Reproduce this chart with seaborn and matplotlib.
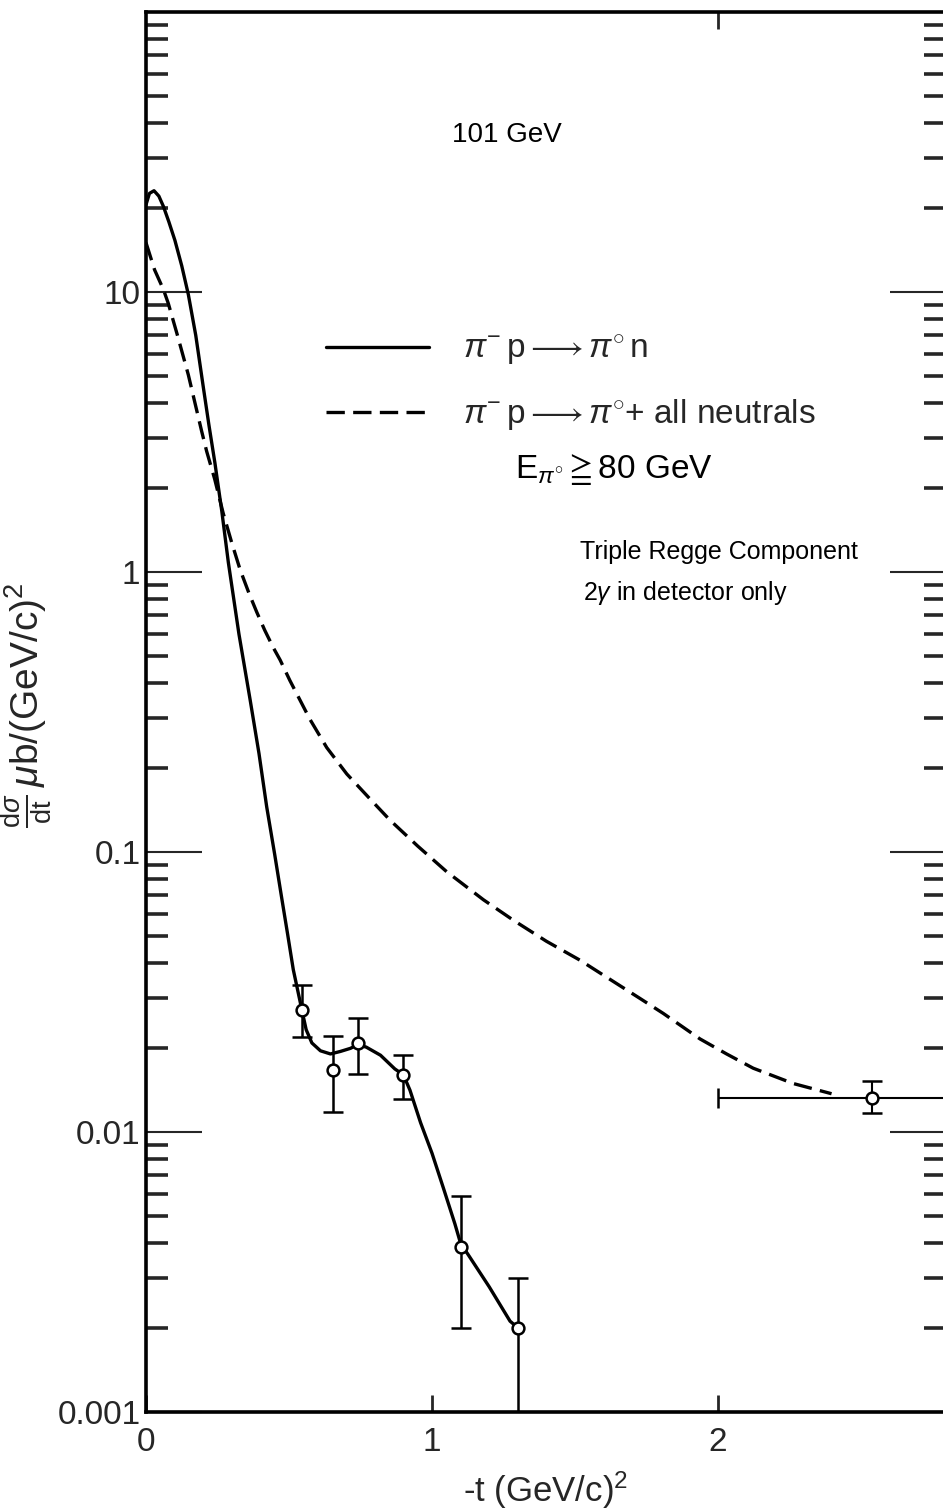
import numpy as np
import pandas as pd
import matplotlib
matplotlib.use("Agg")
import matplotlib.pyplot as plt
from matplotlib.ticker import LogLocator, NullFormatter, NullLocator
import seaborn as sns

# theory curve, pi- p -> pi0 n
solid_t = [0.0, 0.012, 0.028, 0.045, 0.061, 0.08, 0.101, 0.125, 0.148, 0.174, 0.2, 0.22,
           0.241, 0.265, 0.288, 0.325, 0.364, 0.395, 0.422, 0.45, 0.474, 0.495, 0.515,
           0.545, 0.56, 0.58, 0.61, 0.645, 0.68, 0.715, 0.74, 0.77, 0.82, 0.87, 0.90,
           0.923, 0.96, 1.0, 1.04, 1.08, 1.10, 1.127, 1.2, 1.273, 1.30]
solid_y = [20.5, 22.5, 23.0, 22.0, 20.2, 17.8, 15.3, 12.4, 9.8, 7.0, 4.6, 3.35,
           2.45, 1.65, 1.08, 0.60, 0.35, 0.225, 0.145, 0.098, 0.069, 0.051, 0.038,
           0.0273, 0.0232, 0.0208, 0.0195, 0.019, 0.0194, 0.0199, 0.0205, 0.0201, 0.0188, 0.0168, 0.016,
           0.0141, 0.0108, 0.0084, 0.0063, 0.0047, 0.0040, 0.00364, 0.0028, 0.00211, 0.002]

# triple Regge component, pi- p -> pi0 + all neutrals
dash_t = [0.0, 0.03, 0.061, 0.078, 0.11, 0.148, 0.194, 0.212, 0.24, 0.27, 0.3, 0.329, 0.36,
          0.387, 0.415, 0.445, 0.469, 0.503, 0.573, 0.632, 0.702, 0.78, 0.853, 0.95, 1.051,
          1.18, 1.284, 1.4, 1.517, 1.587, 1.727, 1.809, 1.937, 2.03, 2.123, 2.263, 2.397]
dash_y = [15.0, 12.0, 10.2, 9.1, 7.0, 5.06, 3.2, 2.7, 2.15, 1.62, 1.27, 1.02, 0.84,
          0.72, 0.62, 0.537, 0.485, 0.41, 0.298, 0.236, 0.19, 0.156, 0.130, 0.105, 0.0851,
          0.0675, 0.0571, 0.048, 0.0411, 0.037, 0.030, 0.0265, 0.0215, 0.019, 0.0169, 0.0149, 0.0137]

# measured points, pi0 n
pt_t  = [0.545, 0.655, 0.74, 0.90, 1.10, 1.30]
pt_y  = [0.0273, 0.0167, 0.0208, 0.0160, 0.0039, 0.0020]
pt_lo = [0.0219, 0.0118, 0.0161, 0.0131, 0.0020, 0.0010]
pt_hi = [0.0334, 0.0220, 0.0256, 0.0189, 0.0059, 0.0030]

# measured point, all neutrals (bin 2 < -t < 3)
nt_t, nt_tlo, nt_thi = [2.54], [2.0], [3.0]
nt_y, nt_lo, nt_hi = [0.0132], [0.0117], [0.0152]

labels = [r"$\pi^{-}\,\mathrm{p}\longrightarrow\pi^{\circ}\,\mathrm{n}$",
          r"$\pi^{-}\,\mathrm{p}\longrightarrow\pi^{\circ}$+ all neutrals"]
ytick_vals = [0.001, 0.01, 0.1, 1, 10]
ytick_labs = ["0.001", "0.01", "0.1", "1", "10"]
xtick_vals = [0, 1, 2]

sns.set_style("white")
plt.rcParams["font.family"] = ["Liberation Sans", "DejaVu Sans"]
plt.rcParams["mathtext.fontset"] = "custom"
plt.rcParams["mathtext.rm"] = "Liberation Sans"
plt.rcParams["mathtext.it"] = "Liberation Sans:italic"
plt.rcParams["mathtext.bf"] = "Liberation Sans:bold"

fig = plt.figure(figsize=(9.43, 15.11), dpi=100)
ax = fig.add_axes([146 / 943, 99 / 1511, 800 / 943, 1400 / 1511])

lw = 2.4
sns.lineplot(x=solid_t, y=solid_y, ax=ax, color="black", lw=lw, sort=False,
             estimator=None, label=labels[0])
sns.lineplot(x=dash_t, y=dash_y, ax=ax, color="black", lw=lw, sort=False,
             estimator=None, linestyle=(0, (5.5, 2.5)), label=labels[1])

pt_t_a, pt_y_a = np.array(pt_t), np.array(pt_y)
yerr = [pt_y_a - np.array(pt_lo), np.array(pt_hi) - pt_y_a]
ax.errorbar(pt_t, pt_y, yerr=yerr, fmt="o", mfc="white", mec="black", ms=8.5, mew=1.8,
            ecolor="black", elinewidth=1.8, capsize=7, capthick=1.8, zorder=5)
nt_yerr = [np.array(nt_y) - np.array(nt_lo), np.array(nt_hi) - np.array(nt_y)]
nt_xerr = [np.array(nt_t) - np.array(nt_tlo), np.array(nt_thi) - np.array(nt_t)]
ax.errorbar(nt_t, nt_y, yerr=nt_yerr, xerr=nt_xerr, fmt="o", mfc="white", mec="black",
            ms=8.5, mew=1.8, ecolor="black", elinewidth=1.5, capsize=7, capthick=1.8, zorder=5)

ax.set_yscale("log")
ax.set_ylim(1e-3, 1e2)
ax.set_xlim(0, 800 / 286)

ax.set_yticks(ytick_vals)
ax.set_yticklabels(ytick_labs)
ax.yaxis.set_minor_locator(LogLocator(base=10, subs=np.arange(2, 10)))
ax.yaxis.set_minor_formatter(NullFormatter())
ax.tick_params(axis="y", which="major", direction="in", length=40, width=1.5,
               left=True, right=True, labelsize=24, pad=4)
ax.tick_params(axis="y", which="minor", direction="in", length=16, width=2.6,
               left=True, right=True)
ax.set_xticks(xtick_vals)
ax.set_xticklabels([str(v) for v in xtick_vals])
ax.xaxis.set_minor_locator(NullLocator())
ax.tick_params(axis="x", which="major", direction="in", length=12, width=2.0,
               bottom=True, top=False, labelsize=24, pad=11)
top = ax.secondary_xaxis("top")
top.set_xticks([2])
top.set_xticklabels([])
top.tick_params(direction="in", length=12, width=2.0)
top.spines["top"].set_visible(False)

for side in ["left", "bottom", "top"]:
    ax.spines[side].set_color("black")
    ax.spines[side].set_linewidth(2.6)
ax.spines["right"].set_visible(False)

ax.set_xlabel(r"-t (GeV/c)$^2$", fontsize=25)
ax.xaxis.set_label_coords(0.5, -0.041)
ax.set_ylabel(r"$\frac{\mathrm{d}\sigma}{\mathrm{dt}}\,\mu\mathrm{b/(GeV/c)}^2$", fontsize=28)
ax.yaxis.set_label_coords(-0.149, 0.505)
ax.yaxis.label.set_verticalalignment("center")

ax.legend(loc="upper left", bbox_to_anchor=(0.225, 0.7705), frameon=False, fontsize=24,
          handlelength=3.1, handletextpad=1.0, labelspacing=0.9, borderpad=0,
          borderaxespad=0)

txt = dict(transform=ax.transAxes, color="black")
ax.text(0.451, 0.912, "101 GeV", ha="center", va="center", fontsize=20, **txt)
ax.text(0.461, 0.673, r"E$_{\pi^{\circ}}$$\geqq$80 GeV", ha="left", va="center",
        fontsize=24, **txt)
ax.text(0.5425, 0.614, "Triple Regge Component", ha="left", va="center", fontsize=18, **txt)
ax.text(0.546, 0.585, r"2$\gamma$ in detector only", ha="left", va="center",
        fontsize=18, **txt)

fig.savefig("out.png", dpi=100)
